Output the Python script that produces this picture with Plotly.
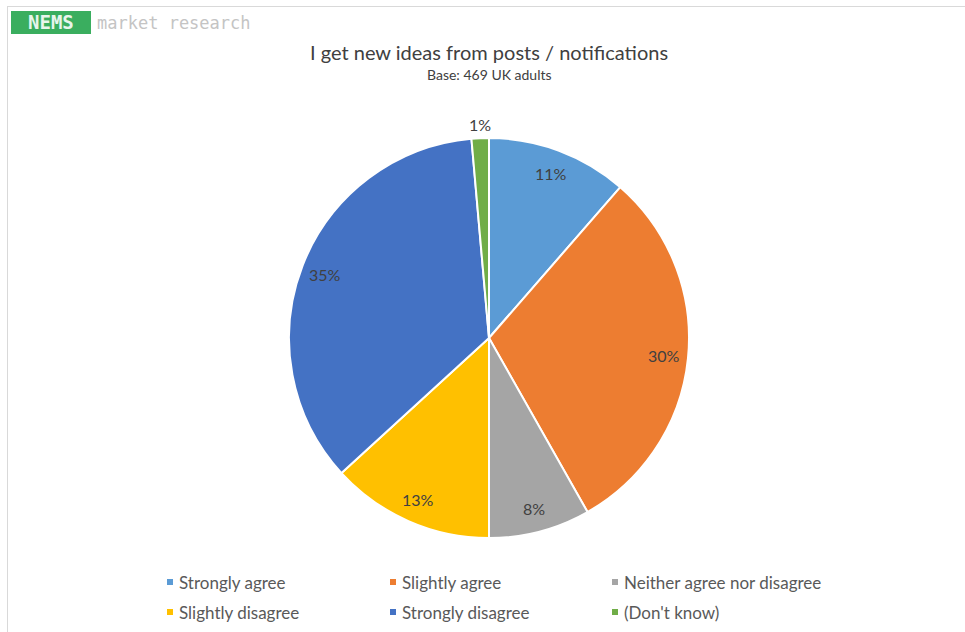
import math
import plotly.graph_objects as go

# Survey responses
categories = ["Strongly agree", "Slightly agree", "Neither agree nor disagree",
              "Slightly disagree", "Strongly disagree", "(Don't know)"]
shares = [11.4, 30.4, 8.2, 13.2, 35.4, 1.4]
colors = ["#5B9BD5", "#ED7D31", "#A5A5A5", "#FFC000", "#4472C4", "#70AD47"]

W, H = 965, 632
FONT = "Lato, 'Open Sans', sans-serif"

# pie geometry in pixels
cx, cy, R = 489, 338, 200


def px(x):
    return x / W


def py(y):
    return 1 - y / H


def label(x, y, text, size, color, family=FONT, xanchor="center"):
    return dict(x=px(x), y=py(y), xref="paper", yref="paper",
                xanchor=xanchor, yanchor="middle", text=text, showarrow=False,
                font=dict(family=family, size=size, color=color))


fig = go.Figure(go.Pie(
    labels=categories,
    values=shares,
    sort=False,
    direction="clockwise",
    rotation=0,
    marker=dict(colors=colors, line=dict(color="white", width=2)),
    textinfo="none",
    hoverinfo="label+percent",
    showlegend=False,
    domain=dict(x=[px(cx - R), px(cx + R)], y=[py(cy + R), py(cy - R)]),
))

annotations = []
shapes = []

# value labels placed along each slice's mid-angle
total = sum(shares)
cum = 0.0
for v in shares:
    mid = (cum + v / 2) / total * 2 * math.pi
    cum += v
    r = 0.88 * R if v / total > 0.03 else 1.07 * R
    lx = cx + r * math.sin(mid)
    ly = cy - r * math.cos(mid)
    annotations.append(label(lx, ly, f"{round(v / total * 100)}%", 16, "#404040"))

# legend: three columns, two rows
col_x = [167, 390, 612]
row_y = [582, 612]
for i, (name, c) in enumerate(zip(categories, colors)):
    x0 = col_x[i % 3]
    y0 = row_y[i // 3]
    shapes.append(dict(type="rect", xref="paper", yref="paper",
                       x0=px(x0), x1=px(x0 + 6), y0=py(y0 + 3), y1=py(y0 - 3),
                       fillcolor=c, line=dict(width=0)))
    annotations.append(label(x0 + 10, y0, name, 17, "#595959", xanchor="left"))

# title and subtitle
annotations.append(label(489, 52, "I get new ideas from posts / notifications",
                         20, "#404040"))
annotations.append(label(489, 75, "Base: 469 UK adults", 14, "#404040"))

# chart frame
shapes.append(dict(type="line", xref="paper", yref="paper",
                   x0=px(7), x1=1.01, y0=py(6.5), y1=py(6.5),
                   line=dict(color="#D9D9D9", width=1)))
shapes.append(dict(type="line", xref="paper", yref="paper",
                   x0=px(7.5), x1=px(7.5), y0=py(6), y1=-0.01,
                   line=dict(color="#D9D9D9", width=1)))

# logo
shapes.append(dict(type="rect", xref="paper", yref="paper",
                   x0=px(11), x1=px(91), y0=py(34), y1=py(11),
                   fillcolor="#3AAE5F", line=dict(width=0)))
annotations.append(label(51, 22.5, "<b>NEMS</b>", 19, "#E8F5EC",
                         family="DejaVu Sans Mono, monospace"))
annotations.append(label(95, 23, "market research", 17, "#C4C4C4",
                         family="DejaVu Sans Mono, monospace", xanchor="left"))

fig.update_layout(
    width=W, height=H,
    margin=dict(l=0, r=0, t=0, b=0),
    paper_bgcolor="white",
    plot_bgcolor="white",
    annotations=annotations,
    shapes=shapes,
)

fig.write_html("out.html")
